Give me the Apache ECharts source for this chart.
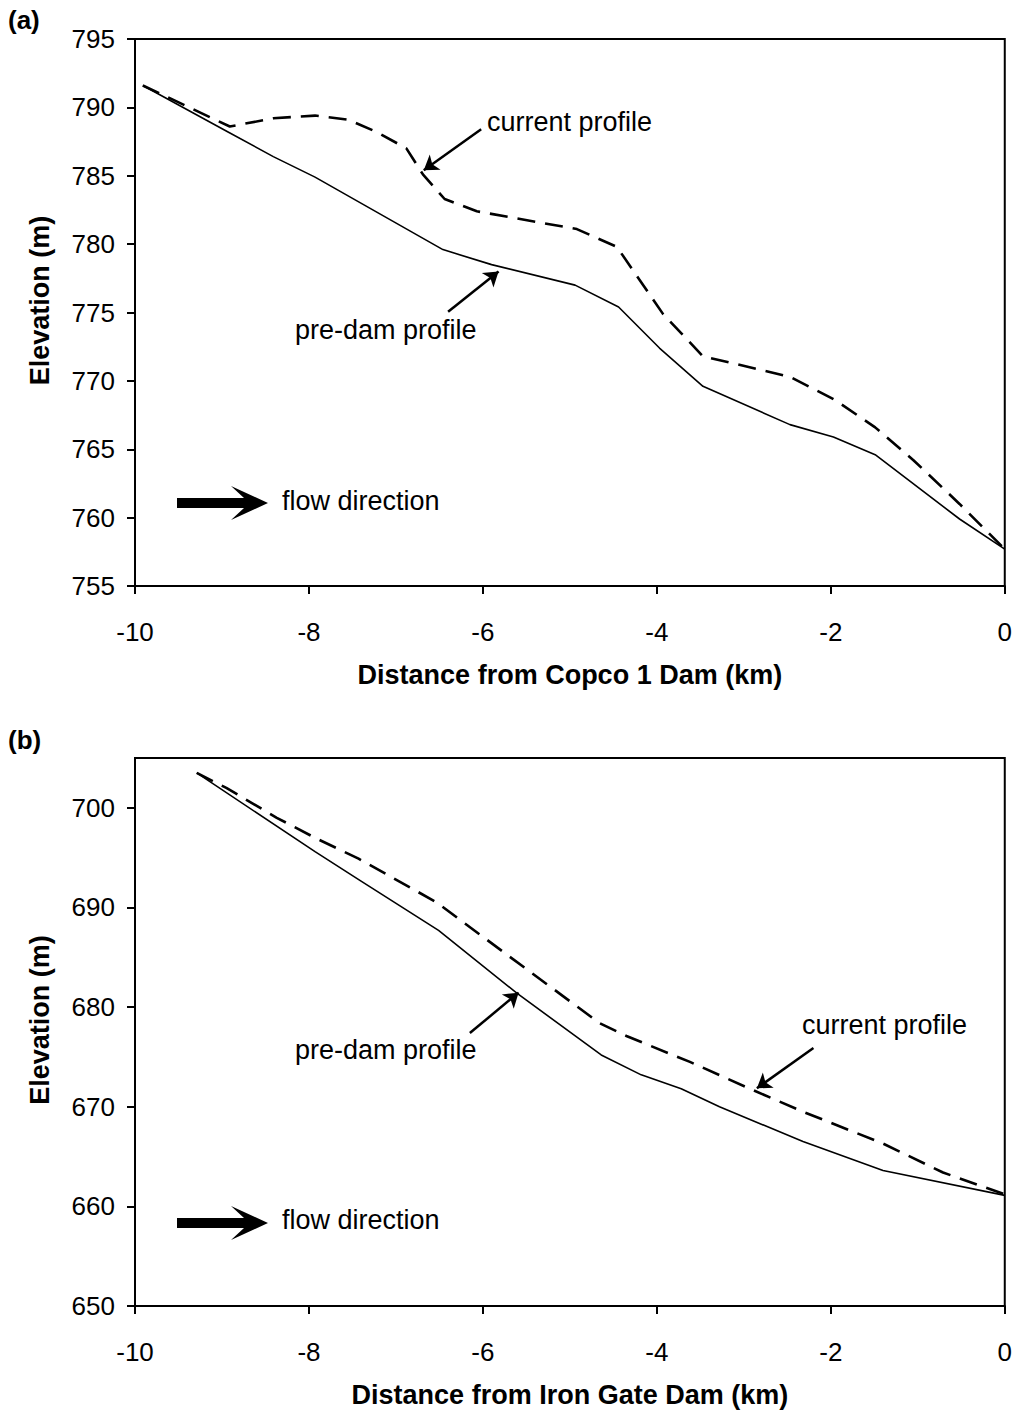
<!DOCTYPE html>
<html>
<head>
<meta charset="utf-8">
<script src="https://cdn.jsdelivr.net/npm/echarts@6/dist/echarts.min.js"></script>
<style>
  html, body { margin: 0; padding: 0; background: #fff; }
  #chart { width: 1015px; height: 1410px; }
</style>
</head>
<body>
<div id="chart"></div>
<script>
// panel (a): Copco 1 reach
var preA_x = [-9.91, -8.93, -8.41, -7.93, -6.46, -5.90, -4.94, -4.44, -3.97, -3.47, -2.47, -1.97, -1.49, -0.52, 0];
var preA_y = [791.6, 788.2, 786.4, 784.9, 779.6, 778.5, 777.0, 775.4, 772.4, 769.6, 766.8, 765.9, 764.6, 759.9, 757.7];
var curA_x = [-9.91, -8.91, -8.41, -7.93, -7.55, -7.22, -6.88, -6.69, -6.44, -6.07, -5.54, -4.92, -4.46, -3.93, -3.47, -2.47, -1.95, -1.49, -1.05, -0.52, 0];
var curA_y = [791.6, 788.6, 789.2, 789.4, 789.1, 788.2, 787.0, 785.1, 783.3, 782.4, 781.8, 781.1, 779.8, 774.9, 771.8, 770.3, 768.6, 766.6, 764.2, 761.0, 757.7];

// panel (b): Iron Gate reach
var preB_x = [-9.29, -7.93, -7.41, -6.51, -5.61, -4.64, -4.18, -3.72, -3.28, -2.32, -1.40, 0];
var preB_y = [703.5, 695.6, 692.7, 687.7, 681.4, 675.2, 673.2, 671.8, 670.0, 666.5, 663.6, 661.1];
var curB_x = [-9.29, -8.95, -8.37, -7.91, -7.43, -6.53, -5.73, -4.66, -4.35, -3.79, -3.62, -2.93, -2.32, -1.40, -0.71, 0];
var curB_y = [703.5, 702.0, 699.0, 696.9, 694.9, 690.5, 685.3, 678.4, 677.1, 675.1, 674.5, 671.8, 669.5, 666.3, 663.4, 661.2];

var yTicksB = [650, 660, 670, 680, 690, 700];

// annotation pointers (data coords: from, to)
var ptrCurA = [[-6.02, 788.4], [-6.68, 785.4]];
var ptrPreA = [[-6.40, 775.05], [-5.82, 778.0]];
var ptrPreB = [[-6.15, 677.4], [-5.59, 681.45]];
var ptrCurB = [[-2.20, 675.9], [-2.85, 671.85]];

function pairs(xs, ys) {
  return xs.map(function(x, i) { return [x, ys[i]]; });
}

var font = 'Arial, "Liberation Sans", Helvetica, sans-serif';
var ink = '#000';

function xAxisFor(gi, name) {
  return {
    type: 'value', gridIndex: gi, min: -10, max: 0, interval: 2,
    name: name, nameLocation: 'middle', nameGap: 75,
    nameTextStyle: { color: ink, fontFamily: font, fontSize: 27, fontWeight: 'bold' },
    axisLine: { onZero: false, lineStyle: { color: ink, width: 2 } },
    axisTick: { inside: false, length: 8, lineStyle: { color: ink, width: 2 } },
    axisLabel: { color: ink, fontFamily: font, fontSize: 26, margin: 33 },
    splitLine: { show: false }
  };
}

function yAxisFor(gi, min, max, step, ticks) {
  var ax = {
    type: 'value', gridIndex: gi, min: min, max: max, interval: step,
    name: 'Elevation (m)', nameLocation: 'middle', nameGap: 82, nameRotate: 90,
    nameTextStyle: { color: ink, fontFamily: font, fontSize: 27, fontWeight: 'bold', padding: [0, 0, 0, 24] },
    axisLine: { onZero: false, lineStyle: { color: ink, width: 2 } },
    axisTick: { inside: false, length: 8, lineStyle: { color: ink, width: 2 } },
    axisLabel: { color: ink, fontFamily: font, fontSize: 26, margin: 20 },
    splitLine: { show: false }
  };
  if (ticks) {
    ax.axisTick.customValues = ticks;
    ax.axisLabel.customValues = ticks;
  }
  return ax;
}

function pointer(seg) {
  return {
    silent: true, animation: false,
    symbol: ['none', 'arrow'], symbolSize: 14,
    label: { show: false },
    lineStyle: { color: ink, width: 2.5, type: 'solid' },
    emphasis: { disabled: true },
    data: [[{ coord: seg[0] }, { coord: seg[1] }]]
  };
}

function flowArrow(cy) {
  return {
    type: 'polygon',
    shape: { points: [[177, cy - 5], [244, cy - 5], [231, cy - 17], [268, cy], [231, cy + 17], [244, cy + 5], [177, cy + 5]] },
    style: { fill: ink }
  };
}

function note(text, x, y) {
  return {
    type: 'text', x: x, y: y,
    style: { text: text, fill: ink, font: '27px ' + font, textVerticalAlign: 'middle' }
  };
}

var chart = echarts.init(document.getElementById('chart'), null, { renderer: 'svg' });
chart.setOption({
  animation: false,
  backgroundColor: '#fff',
  grid: [
    { left: 135, top: 39, width: 870, height: 547, show: true, borderColor: ink, borderWidth: 2, containLabel: false },
    { left: 135, top: 758, width: 870, height: 548, show: true, borderColor: ink, borderWidth: 2, containLabel: false }
  ],
  xAxis: [
    xAxisFor(0, 'Distance from Copco 1 Dam (km)'),
    xAxisFor(1, 'Distance from Iron Gate Dam (km)')
  ],
  yAxis: [
    yAxisFor(0, 755, 795, 5, null),
    yAxisFor(1, 650, 705, 10, yTicksB)
  ],
  series: [
    {
      name: 'pre-dam profile (a)', type: 'line', xAxisIndex: 0, yAxisIndex: 0,
      data: pairs(preA_x, preA_y), symbol: 'none',
      lineStyle: { color: ink, width: 1.6 },
      markLine: pointer(ptrPreA)
    },
    {
      name: 'current profile (a)', type: 'line', xAxisIndex: 0, yAxisIndex: 0,
      data: pairs(curA_x, curA_y), symbol: 'none',
      lineStyle: { color: ink, width: 2.6, type: [18, 10] },
      markLine: pointer(ptrCurA)
    },
    {
      name: 'pre-dam profile (b)', type: 'line', xAxisIndex: 1, yAxisIndex: 1,
      data: pairs(preB_x, preB_y), symbol: 'none',
      lineStyle: { color: ink, width: 1.6 },
      markLine: pointer(ptrPreB)
    },
    {
      name: 'current profile (b)', type: 'line', xAxisIndex: 1, yAxisIndex: 1,
      data: pairs(curB_x, curB_y), symbol: 'none',
      lineStyle: { color: ink, width: 2.6, type: [18, 10] },
      markLine: pointer(ptrCurB)
    }
  ],
  graphic: [
    { type: 'text', x: 8, y: 20, style: { text: '(a)', fill: ink, font: 'bold 26px ' + font, textVerticalAlign: 'middle' } },
    { type: 'text', x: 8, y: 740, style: { text: '(b)', fill: ink, font: 'bold 26px ' + font, textVerticalAlign: 'middle' } },
    note('current profile', 487, 122),
    note('pre-dam profile', 295, 330),
    note('flow direction', 282, 501),
    flowArrow(503),
    note('pre-dam profile', 295, 1050),
    note('current profile', 802, 1025),
    note('flow direction', 282, 1220),
    flowArrow(1223)
  ]
});
</script>
</body>
</html>
